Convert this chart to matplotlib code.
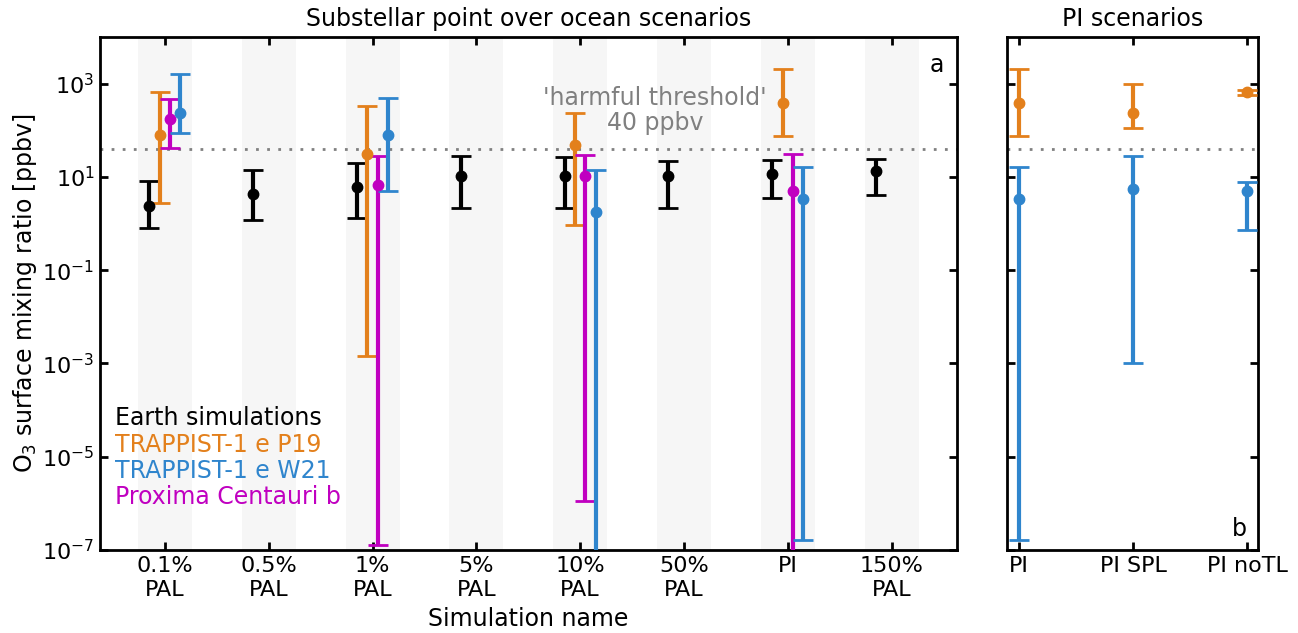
import numpy as np
import matplotlib
matplotlib.use("Agg")
import matplotlib.pyplot as plt
from matplotlib.ticker import FixedLocator, LogFormatterMathtext, NullLocator

# ---------------- data ----------------
left_labels = ["0.1%\nPAL", "0.5%\nPAL", "1%\nPAL", "5%\nPAL", "10%\nPAL", "50%\nPAL", "PI", "150%\nPAL"]
right_labels = ["PI", "PI SPL", "PI noTL"]

# Earth simulations (all 8 scenarios)
earth_idx = [0, 1, 2, 3, 4, 5, 6, 7]
earth_val = [2.35, 4.4, 6.1, 10.4, 10.5, 10.5, 11.8, 13.2]
earth_hi = [8.2, 13.9, 19.4, 28.0, 27.0, 21.7, 22.8, 24.0]
earth_lo = [0.81, 1.22, 1.32, 2.17, 2.17, 2.2, 3.55, 4.1]

# TRAPPIST-1 e P19
p19_idx = [0, 2, 4, 6]
p19_val = [78, 31.6, 48.5, 392]
p19_hi = [650, 327, 235, 2020]
p19_lo = [2.8, 1.47e-3, 0.95, 74]

# Proxima Centauri b
prox_idx = [0, 2, 4, 6]
prox_val = [178, 6.6, 10.5, 4.95]
prox_hi = [480, 28, 30, 30.6]
prox_lo = [41, 1.3e-7, 1.1e-6, 1e-9]

# TRAPPIST-1 e W21
w21_idx = [0, 2, 4, 6]
w21_val = [239, 78, 1.78, 3.28]
w21_hi = [1580, 484, 13.9, 16.1]
w21_lo = [89, 4.9, 1e-9, 1.66e-7]

# PI scenarios panel
pi_p19_val = [392, 235, 652]
pi_p19_hi = [2020, 966, 720]
pi_p19_lo = [74, 110, 580]
pi_w21_val = [3.28, 5.4, 5.0]
pi_w21_hi = [16.1, 27.7, 7.7]
pi_w21_lo = [1.66e-7, 1e-3, 0.72]

threshold = 40

# ---------------- style ----------------
C_BLACK = "black"
C_ORANGE = "#e3801c"
C_BLUE = "#2f85cd"
C_MAG = "#c000c0"
FS = 17
TFS = 16

plt.rcParams['font.family'] = ['DejaVu Sans']

fig = plt.figure(figsize=(12.98, 6.33), dpi=100)
W, H = 1298, 633
ax1 = fig.add_axes([100 / W, 83 / H, 857 / W, 513 / H])
ax2 = fig.add_axes([1006.5 / W, 83 / H, 251.5 / W, 513 / H])

ekw = dict(fmt='o', markersize=7.5, elinewidth=3, capsize=7, capthick=2)


def plot_series(ax, xs, val, hi, lo, color, offset):
    x = np.asarray(xs, dtype=float) + offset
    v = np.asarray(val, dtype=float)
    yerr = np.vstack([v - np.asarray(lo), np.asarray(hi) - v])
    ax.errorbar(x, v, yerr=yerr, color=color, zorder=3, **ekw)


# left panel
for i in range(len(left_labels)):
    ax1.axvspan(i - 0.26, i + 0.26, color="#f6f6f6", zorder=0, lw=0)
plot_series(ax1, earth_idx, earth_val, earth_hi, earth_lo, C_BLACK, -0.15)
plot_series(ax1, p19_idx, p19_val, p19_hi, p19_lo, C_ORANGE, -0.05)
plot_series(ax1, prox_idx, prox_val, prox_hi, prox_lo, C_MAG, 0.05)
plot_series(ax1, w21_idx, w21_val, w21_hi, w21_lo, C_BLUE, 0.15)
ax1.axhline(threshold, color="gray", ls=(0, (1, 3)), lw=2, zorder=1)
ax1.text(4.72, 270, "'harmful threshold'\n40 ppbv", color="gray", fontsize=FS,
         ha="center", va="center", linespacing=1.05)
ax1.set_xlim(-0.625, 7.63)
ax1.set_xticks(range(len(left_labels)))
ax1.set_xticklabels(left_labels, fontsize=TFS, linespacing=1.3)
ax1.set_xlabel("Simulation name", fontsize=FS, labelpad=5)
ax1.set_ylabel("O$_3$ surface mixing ratio [ppbv]", fontsize=FS, labelpad=2)
ax1.set_title("Substellar point over ocean scenarios", fontsize=FS, pad=8)
ax1.text(0.985, 0.945, "a", transform=ax1.transAxes, fontsize=FS, ha="right", va="center")

leg_texts = [("Earth simulations", C_BLACK), ("TRAPPIST-1 e P19", C_ORANGE),
             ("TRAPPIST-1 e W21", C_BLUE), ("Proxima Centauri b", C_MAG)]
for k, (t, c) in enumerate(leg_texts):
    ax1.text(0.017, (550 - 418 - k * 26.5) / 513, t, color=c, fontsize=FS,
             transform=ax1.transAxes, ha="left", va="center")

# right panel
plot_series(ax2, range(3), pi_p19_val, pi_p19_hi, pi_p19_lo, C_ORANGE, 0.0)
plot_series(ax2, range(3), pi_w21_val, pi_w21_hi, pi_w21_lo, C_BLUE, 0.0)
ax2.axhline(threshold, color="gray", ls=(0, (1, 3)), lw=2, zorder=1)
ax2.set_xlim(-0.108, 2.094)
ax2.set_xticks(range(3))
ax2.set_xticklabels(right_labels, fontsize=TFS)
ax2.set_title("PI scenarios", fontsize=FS, pad=8)
ax2.text(0.955, 0.04, "b", transform=ax2.transAxes, fontsize=FS, ha="right", va="center")

for ax in (ax1, ax2):
    ax.set_yscale("log")
    ax.set_ylim(1e-7, 1e4)
    ax.yaxis.set_major_locator(FixedLocator([1e-7, 1e-5, 1e-3, 1e-1, 1e1, 1e3]))
    ax.yaxis.set_major_formatter(LogFormatterMathtext())
    ax.yaxis.set_minor_locator(NullLocator())
    ax.tick_params(axis="both", which="major", direction="in", top=True, right=True,
                   length=6, width=2, labelsize=TFS, pad=4)
    for s in ax.spines.values():
        s.set_linewidth(2)

ax2.tick_params(axis="y", labelleft=False)

fig.savefig("out.png", dpi=100)
